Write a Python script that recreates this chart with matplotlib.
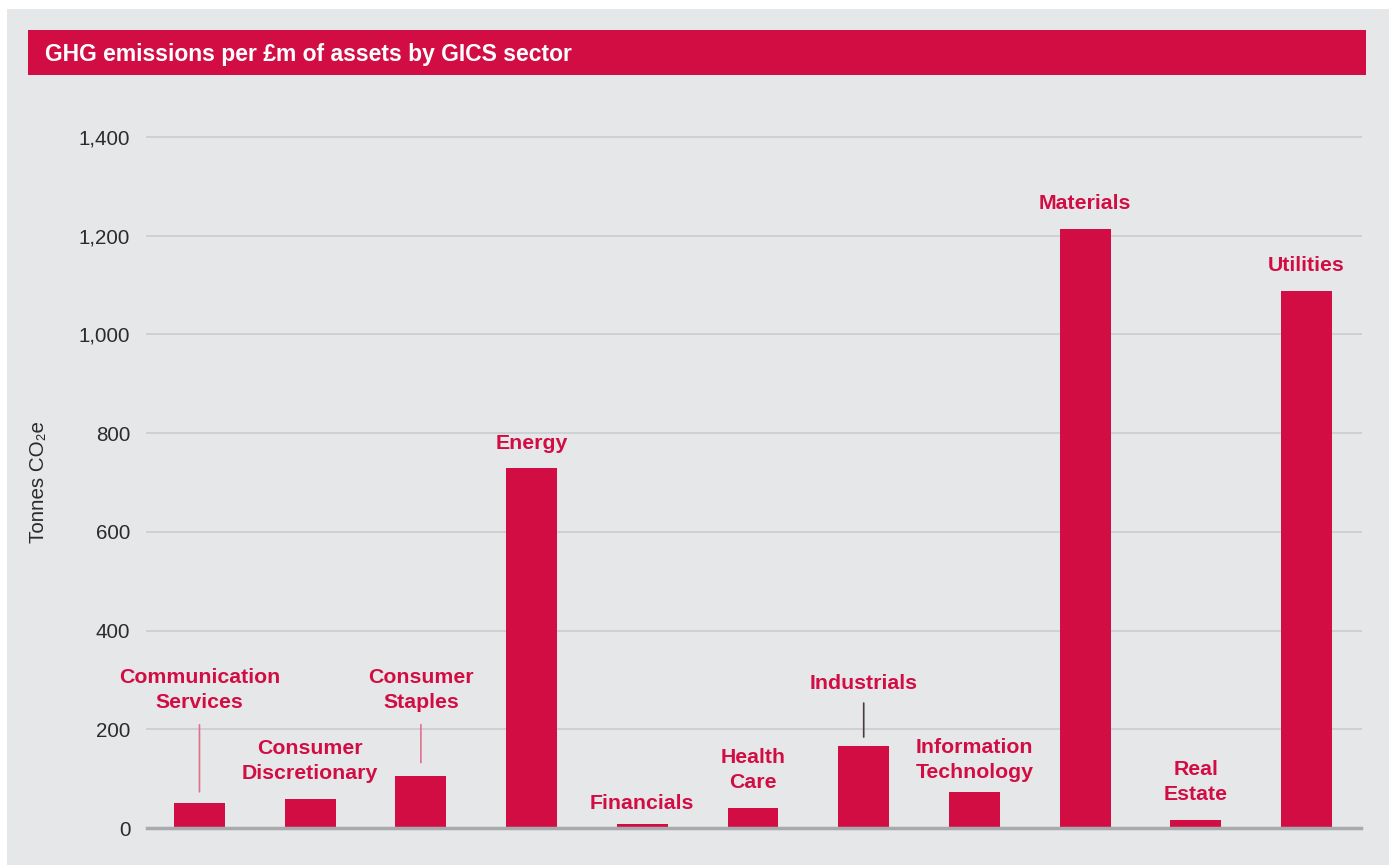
import matplotlib.pyplot as plt
from matplotlib import patches

plt.rcParams['font.family'] = ['Liberation Sans', 'DejaVu Sans']

sectors = ['Communication\nServices', 'Consumer\nDiscretionary', 'Consumer\nStaples', 'Energy',
           'Financials', 'Health\nCare', 'Industrials', 'Information\nTechnology', 'Materials',
           'Real\nEstate', 'Utilities']
emissions = [51, 59, 106, 729, 9, 41, 166, 73, 1214, 17, 1089]
yticks = [0, 200, 400, 600, 800, 1000, 1200, 1400]

RED = '#d20d44'
BG = '#e6e7e9'
W, H = 1389, 865

# label offset above bar top (pixels), leaders for the raised ones
label_off = [91, 16, 64, 15, 11, 16, 53, 10, 16, 16, 16]
leaders = {0: (11, 78, '#e2708c'), 2: (13, 51, '#e2708c'), 6: (9, 43, '#4a3a3e')}

fig = plt.figure(figsize=(W / 100, H / 100), dpi=100, facecolor='white')
fig.patches.append(patches.Rectangle((7 / W, 0), 1, (H - 9) / H, transform=fig.transFigure,
                                     facecolor=BG, edgecolor='none', zorder=-2))
fig.patches.append(patches.Rectangle((28 / W, 1 - 75 / H), (1366 - 28) / W, 45 / H,
                                     transform=fig.transFigure, facecolor=RED,
                                     edgecolor='none', zorder=-1))
fig.text(45 / W, 1 - 54 / H, 'GHG emissions per £m of assets by GICS sector', color='white',
         fontsize=16.5, fontweight='bold', va='center', ha='left')

ax = fig.add_axes([147 / W, 1 - 828 / H, (1361 - 147) / W, (828 - 137) / H])
ax.set_zorder(5)
ax.set_facecolor('none')
x = list(range(len(sectors)))
ax.bar(x, emissions, width=0.46, color=RED, zorder=3)

ax.set_xlim(-0.474, len(sectors) - 0.508)
ax.set_ylim(0, 1400)
ax.set_yticks(yticks)
ax.set_yticklabels([f'{v:,}' for v in yticks], fontsize=14.8, color='#2b2b2b')
ax.tick_params(axis='y', length=0, pad=12)
ax.set_xticks([])
for s in ax.spines.values():
    s.set_visible(False)
for v in yticks[1:]:
    ax.axhline(v, color='#cdced1', lw=1.3, zorder=1, clip_on=False)
ax.axhline(0, color='#a9aaad', lw=2.5, zorder=4, clip_on=False)

ax.set_ylabel('Tonnes CO₂e', fontsize=14.8, color='#2b2b2b', labelpad=22)

for i, (name, val) in enumerate(zip(sectors, emissions)):
    ax.annotate(name, xy=(i, val), xytext=(0, label_off[i]), textcoords='offset pixels',
                ha='center', va='bottom', color=RED, fontsize=15.3, fontweight='bold',
                linespacing=1.4, annotation_clip=False)
    if i in leaders:
        gap, top, col = leaders[i]
        ax.annotate('', xy=(i, val), xytext=(0, top), textcoords='offset pixels',
                    arrowprops=dict(arrowstyle='-', color=col, lw=1.2,
                                    shrinkA=0, shrinkB=gap * 0.72))

fig.savefig('out.png', dpi=100, facecolor=fig.get_facecolor())
